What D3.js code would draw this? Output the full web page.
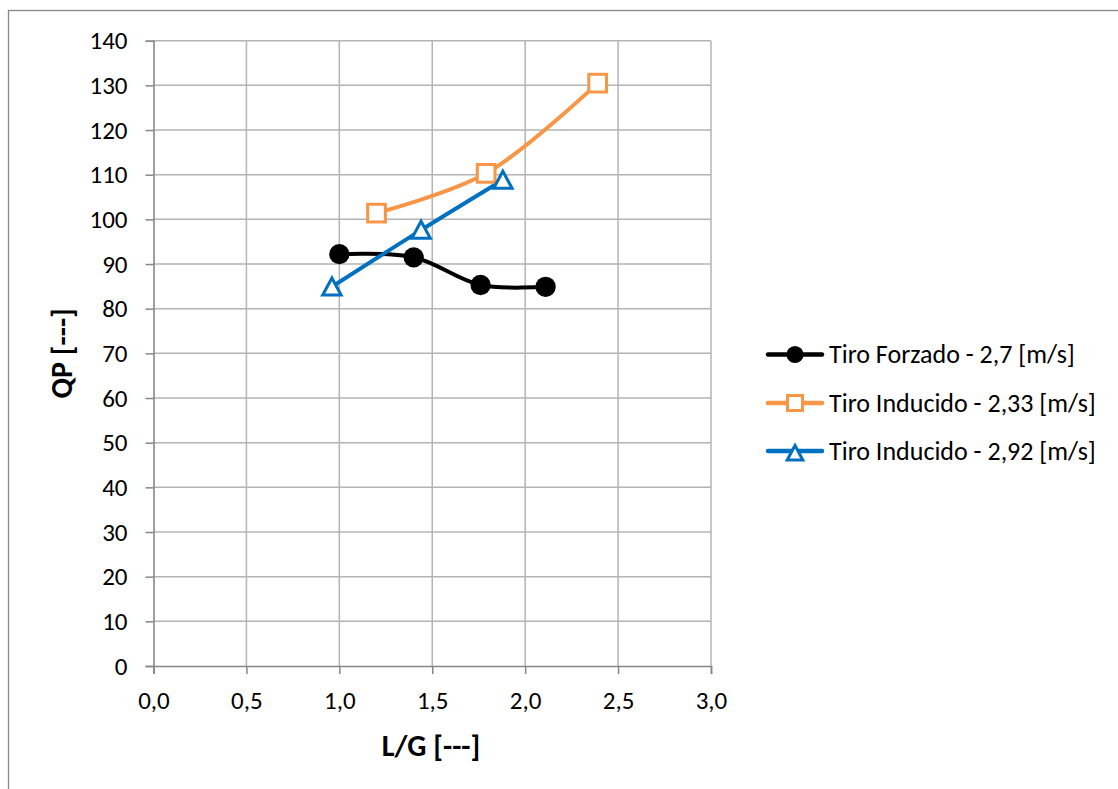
<!DOCTYPE html>
<html>
<head>
<meta charset="utf-8">
<script src="https://cdn.jsdelivr.net/npm/d3@7"></script>
<style>
  html, body { margin: 0; padding: 0; background: #fff; }
  svg { display: block; }
</style>
</head>
<body>
<svg id="chart" width="1118" height="789"></svg>
<script>
// Series data: L/G on x, QP on y
const forzadoX = [1.00, 1.40, 1.76, 2.11];
const forzadoY = [92.2, 91.5, 85.3, 84.9];

const inducido233X = [1.20, 1.79, 2.39];
const inducido233Y = [101.4, 110.3, 130.5];

const inducido292X = [0.96, 1.44, 1.88];
const inducido292Y = [84.9, 97.6, 108.8];

const seriesNames = [
  "Tiro Forzado - 2,7 [m/s]",
  "Tiro Inducido - 2,33 [m/s]",
  "Tiro Inducido - 2,92 [m/s]"
];
const seriesColors = ["#000000", "#f79646", "#0070c0"];
const seriesMarkers = ["circle", "square", "triangle"];

const xTicks = [0, 0.5, 1.0, 1.5, 2.0, 2.5, 3.0];
const yTicks = [0, 10, 20, 30, 40, 50, 60, 70, 80, 90, 100, 110, 120, 130, 140];

const xTitle = "L/G [---]";
const yTitle = "QP [---]";

const series = [
  { xs: forzadoX, ys: forzadoY },
  { xs: inducido233X, ys: inducido233Y },
  { xs: inducido292X, ys: inducido292Y }
].map((s, i) => ({
  name: seriesNames[i],
  color: seriesColors[i],
  marker: seriesMarkers[i],
  points: s.xs.map((x, j) => ({ x, y: s.ys[j] }))
}));

const svg = d3.select("#chart");
const font = "Carlito, 'Open Sans', 'Liberation Sans', sans-serif";

// Chart frame
svg.append("rect")
  .attr("x", 8.5).attr("y", 10.5)
  .attr("width", 1130).attr("height", 800)
  .attr("fill", "#fff").attr("stroke", "#898989").attr("stroke-width", 1.3);

const plot = { left: 153.5, right: 711, top: 40.7, bottom: 666 };

const x = d3.scaleLinear().domain([0, 3]).range([plot.left, plot.right]);
const y = d3.scaleLinear().domain([0, 140]).range([plot.bottom, plot.top]);

const fmtX = v => d3.format(".1f")(v).replace(".", ",");

// Gridlines
const grid = svg.append("g");
grid.selectAll("line.h").data(yTicks.filter(d => d > 0)).join("line")
  .attr("x1", plot.left).attr("x2", plot.right)
  .attr("y1", d => y(d)).attr("y2", d => y(d))
  .attr("stroke", "#b4b4b4").attr("stroke-width", 1.5);
grid.selectAll("line.v").data(xTicks.filter(d => d > 0)).join("line")
  .attr("y1", plot.top).attr("y2", plot.bottom)
  .attr("x1", d => x(d)).attr("x2", d => x(d))
  .attr("stroke", "#b4b4b4").attr("stroke-width", 1.5);

// Axes
const xAxis = svg.append("g")
  .attr("transform", `translate(0,${plot.bottom})`)
  .call(d3.axisBottom(x).tickValues(xTicks).tickFormat(fmtX).tickSize(8).tickPadding(12));
const yAxis = svg.append("g")
  .attr("transform", `translate(${plot.left},0)`)
  .call(d3.axisLeft(y).tickValues(yTicks).tickSize(8).tickPadding(18));

[xAxis, yAxis].forEach(g => {
  g.select(".domain").attr("stroke", "#878787").attr("stroke-width", 1.6);
  g.selectAll(".tick line").attr("stroke", "#878787").attr("stroke-width", 1.5);
  g.selectAll(".tick text")
    .attr("fill", "#000").style("font-family", font).style("font-size", "25px");
});
xAxis.selectAll(".tick text").attr("y", 43).attr("dy", 0);

// Axis titles
svg.append("text")
  .attr("x", 431).attr("y", 756)
  .attr("text-anchor", "middle")
  .style("font-family", font).style("font-size", "30px").style("font-weight", "bold")
  .text(xTitle);
svg.append("text")
  .attr("transform", `translate(72,${(plot.top + plot.bottom) / 2}) rotate(-90)`)
  .attr("text-anchor", "middle")
  .style("font-family", font).style("font-size", "30px").style("font-weight", "bold")
  .text(yTitle);

// Marker drawing; k scales the glyph (chart markers are larger than legend ones)
function drawMarker(g, type, color, k) {
  if (type === "circle") {
    g.append("circle").attr("r", 8.6 * k).attr("fill", color);
  } else if (type === "square") {
    const s = 15 * k;
    g.append("rect").attr("x", -s / 2).attr("y", -s / 2).attr("width", s).attr("height", s)
      .attr("fill", "#fff").attr("stroke", color).attr("stroke-width", 3);
  } else {
    g.append("path")
      .attr("d", `M0,${-7.5 * k} L${7.8 * k},${7 * k} L${-7.8 * k},${7 * k} Z`)
      .attr("fill", "#fff").attr("stroke", color).attr("stroke-width", 3)
      .attr("stroke-linejoin", "miter");
  }
}

const line = d3.line().x(d => x(d.x)).y(d => y(d.y)).curve(d3.curveCatmullRom.alpha(0.5));

series.forEach(s => {
  svg.append("path")
    .datum(s.points)
    .attr("d", line)
    .attr("fill", "none").attr("stroke", s.color).attr("stroke-width", 4)
    .attr("stroke-linecap", "round").attr("stroke-linejoin", "round");
});
series.forEach(s => {
  s.points.forEach(p => {
    const g = svg.append("g").attr("transform", `translate(${x(p.x)},${y(p.y)})`);
    drawMarker(g, s.marker, s.color, 1.18);
  });
});

// Legend
const legendY = [354.5, 403, 451];
series.forEach((s, i) => {
  const g = svg.append("g").attr("transform", `translate(0,${legendY[i]})`);
  g.append("line").attr("x1", 768).attr("x2", 822).attr("y1", 0).attr("y2", 0)
    .attr("stroke", s.color).attr("stroke-width", 4.5).attr("stroke-linecap", "round");
  const m = g.append("g").attr("transform", `translate(795,${s.marker === "triangle" ? 2 : 0})`);
  drawMarker(m, s.marker, s.color, 1.0);
  g.append("text").attr("x", 829).attr("y", 0).attr("dy", "0.33em")
    .style("font-family", font).style("font-size", "26px")
    .text(s.name);
});
</script>
</body>
</html>
